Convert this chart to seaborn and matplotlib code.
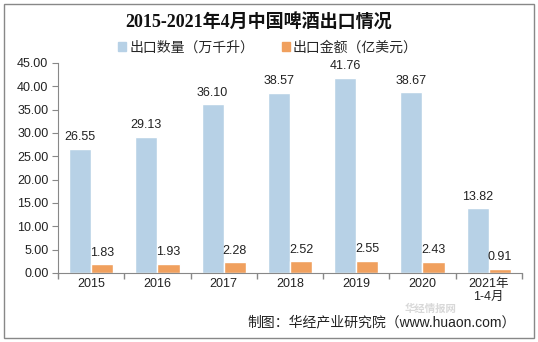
import matplotlib
matplotlib.use("Agg")
import matplotlib.pyplot as plt
import seaborn as sns
import pandas as pd
from matplotlib.patches import Rectangle

categories = ["2015", "2016", "2017", "2018", "2019", "2020", "2021年\n1-4月"]
volume = [26.55, 29.13, 36.10, 38.57, 41.76, 38.67, 13.82]
value = [1.83, 1.93, 2.28, 2.52, 2.55, 2.43, 0.91]
series = ["出口数量（万千升）", "出口金额（亿美元）"]
yticks = [0, 5, 10, 15, 20, 25, 30, 35, 40, 45]

sns.set_theme(style="white")
plt.rcParams['font.family'] = ['Liberation Sans', 'Noto Sans CJK SC', 'DejaVu Sans']

df = pd.DataFrame({
    "cat": categories * 2,
    "val": volume + value,
    "series": [series[0]] * len(categories) + [series[1]] * len(categories),
})

fig = plt.figure(figsize=(5.38, 3.42), dpi=100)
ax = fig.add_axes([0.108, 0.202, 0.862, 0.614])
palette = {series[0]: "#B7D1E6", series[1]: "#F0A05E"}
sns.barplot(data=df, x="cat", y="val", hue="series", palette=palette,
            width=0.67, ax=ax, saturation=1, legend=False)

for cont in ax.containers:
    ax.bar_label(cont, fmt="%.2f", padding=4, fontsize=9, color="#222222")

ax.set_ylim(0, 45)
ax.set_yticks(yticks)
ax.set_yticklabels([f"{t:.2f}" for t in yticks], fontsize=9, color="#222222")
ax.set_xlim(-0.5, len(categories) - 0.5)
ax.set_xticks(range(len(categories)))
ax.set_xticklabels(categories, fontsize=9, color="#222222", linespacing=1.0)
ax.tick_params(axis="x", length=0, pad=4)
ax.tick_params(axis="y", length=4, direction="out", left=True, width=0.8, color="#888888", pad=3)
ax.set_xticks([i + 0.5 for i in range(-1, len(categories))], minor=True)
ax.tick_params(axis="x", which="minor", length=4, bottom=True, direction="out", color="#888888")
ax.set_xlabel("")
ax.set_ylabel("")
for s in ["top", "right"]:
    ax.spines[s].set_visible(False)
ax.spines["left"].set_color("#888888")
ax.spines["bottom"].set_color("#888888")
ax.spines["left"].set_linewidth(0.8)
ax.spines["bottom"].set_linewidth(0.8)

fig.text(0.48, 0.935, "2015-2021年4月中国啤酒出口情况", ha="center", va="center",
         fontsize=13, fontweight="bold", color="#111111",
         family=['Liberation Serif', 'Noto Sans CJK SC', 'DejaVu Sans'])

# legend
handles = [Rectangle((0, 0), 1, 1, color=palette[s]) for s in series]
fig.legend(handles, series, loc="center", bbox_to_anchor=(0.498, 0.862), ncol=2,
           frameon=False, fontsize=10, handlelength=0.6, handleheight=0.6,
           handletextpad=0.2, columnspacing=2.0)

fig.text(0.958, 0.058, "制图：华经产业研究院（www.huaon.com）", ha="right", va="center",
         fontsize=10, color="#222222")
fig.text(0.80, 0.097, "华经情报网", ha="center", va="center", fontsize=7.5,
         fontweight="bold", color="#d8d8d8")

border = Rectangle((0.008, 0.012), 0.984, 0.976, transform=fig.transFigure,
                   fill=False, edgecolor="#888888", linewidth=1)
fig.patches.append(border)

fig.savefig("out.png", dpi=100, facecolor="white")
